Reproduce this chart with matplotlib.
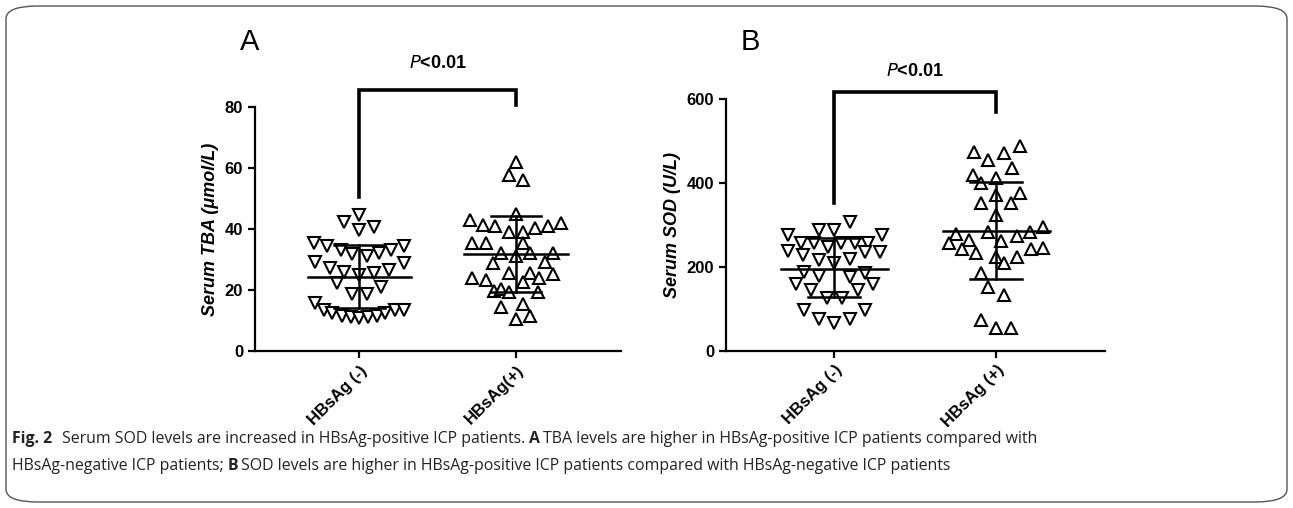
import matplotlib
matplotlib.use("Agg")
import matplotlib.pyplot as plt
from matplotlib.patches import FancyBboxPatch

plt.rcParams['font.family'] = ['Liberation Sans', 'DejaVu Sans']

# ---- data ----
groups_a = ["HBsAg (-)", "HBsAg(+)"]
groups_b = ["HBsAg (-)", "HBsAg (+)"]

tba_neg = [44.5, 42.4, 39.6, 40.5, 35.5, 34.4, 33.0, 31.8, 31.2, 32.0, 33.0, 34.4,
           29.3, 28.7, 27.1, 26.0, 24.9, 25.7, 26.5, 22.4, 21.1, 18.7, 18.7, 15.6,
           13.6, 12.6, 11.5, 11.2, 10.7, 11.2, 11.5, 12.3, 13.4, 13.6]
tba_neg_dx = [0, -0.096, 0, 0.091, -0.291, -0.206, -0.121, -0.047, 0.045, 0.123, 0.202, 0.287,
              -0.285, 0.282, -0.185, -0.096, 0, 0.091, 0.187, -0.142, 0.138, -0.047, 0.045, -0.287,
              -0.227, -0.174, -0.110, -0.053, 0, 0.055, 0.113, 0.166, 0.225, 0.282]
tba_pos = [62.0, 57.6, 56.2, 44.9, 42.9, 41.3, 40.9, 39.1, 39.1, 40.2, 40.9, 42.0,
           35.5, 35.3, 35.5, 32.0, 31.2, 32.0, 32.0, 29.0, 29.3, 25.7, 25.7, 24.0,
           25.1, 24.0, 23.3, 22.5, 19.7, 20.2, 19.2, 19.4, 14.3, 15.4, 10.4, 11.6]
tba_pos_dx = [0, -0.047, 0.042, 0, -0.291, -0.210, -0.132, -0.047, 0.042, 0.123, 0.202, 0.287,
              -0.280, -0.195, 0.042, -0.096, 0, 0.091, 0.236, -0.146, 0.187, -0.047, 0.091, 0.144,
              0.236, -0.280, -0.189, 0.042, -0.142, -0.096, -0.047, 0.138, -0.096, 0.042, 0, 0.091]

sod_neg = [307.6, 287.8, 287.8, 275.8, 275.8, 256, 256, 248, 256, 256, 257.6,
           237.7, 228, 216, 210, 218, 236, 236, 186.8, 178, 176.5, 186,
           158, 158, 144.7, 144.7, 124.8, 124.8, 97, 97, 75.5, 65.2, 74.7]
sod_neg_dx = [0.095, -0.093, 0, -0.286, 0.294, -0.204, -0.123, -0.035, 0.043, 0.126, 0.206,
              -0.282, -0.193, -0.091, 0, 0.095, 0.191, 0.284, -0.189, -0.093, 0.095, 0.191,
              -0.235, 0.237, -0.144, 0.144, -0.045, 0.047, -0.189, 0.191, -0.093, 0, 0.095]
sod_pos = [488, 474.6, 470.6, 454.7, 434.8, 418.9, 399, 412.6, 375.2, 371.2, 351.3, 351.3,
           323.5, 295.7, 283.8, 278.2, 283.8, 273.4, 263.9, 262.3, 256, 241.6, 233.7,
           241.6, 244, 224, 224, 209.9, 184.4, 152.6, 132.7, 73.1, 53.3, 53.3]
sod_pos_dx = [0.144, -0.138, 0.047, -0.049, 0.095, -0.144, -0.097, 0, 0.144, 0, -0.093, 0.093,
              0, 0.290, 0.208, -0.247, -0.049, 0.126, -0.169, 0.027, -0.292, -0.210, -0.128,
              0.212, 0.290, 0, 0.126, 0.047, -0.093, -0.049, 0.047, -0.093, 0, 0.093]

# mean, lower SD, upper SD
tba_stats = [(24.3, 14.0, 34.7), (31.8, 19.4, 44.2)]
sod_stats = [(195.5, 127, 268), (286, 171, 403)]

W, H = 1293, 508
fig = plt.figure(figsize=(W / 100, H / 100), dpi=100)

frame = FancyBboxPatch((6 / W, 6 / H), 1281 / W, 496 / H,
                       boxstyle="round,pad=0,rounding_size=0.025",
                       transform=fig.transFigure, fill=False,
                       edgecolor="#555555", linewidth=1.0)
fig.patches.append(frame)


def panel(rect, vals, dxs, stats, labels, ylim, yticks, ylabel, bracket, ptext_y):
    ax = fig.add_axes(rect)
    markers = ["v", "^"]
    for i in range(2):
        xs = [i + d for d in dxs[i]]
        ax.plot(xs, vals[i], linestyle="none", marker=markers[i], ms=8,
                mfc="white", mec="black", mew=1.5, zorder=3)
        m, lo, hi = stats[i]
        ax.plot([i - 0.33, i + 0.33], [m, m], color="black", lw=1.8, zorder=4)
        ax.plot([i - 0.16, i + 0.16], [lo, lo], color="black", lw=1.8, zorder=4)
        ax.plot([i - 0.16, i + 0.16], [hi, hi], color="black", lw=1.8, zorder=4)
        ax.plot([i, i], [lo, hi], color="black", lw=1.8, zorder=4)
    ax.set_xlim(-0.667, 1.67)
    ax.set_ylim(*ylim)
    ax.set_yticks(yticks)
    ax.set_xticks([0, 1])
    ax.set_xticklabels(labels, rotation=45, ha="right", rotation_mode="anchor",
                       fontsize=12, fontweight="bold")
    for t in ax.get_yticklabels():
        t.set_fontweight("bold")
        t.set_fontsize(12)
    ax.set_ylabel(ylabel, fontsize=13, fontweight="bold", style="italic", labelpad=4)
    for s in ["top", "right"]:
        ax.spines[s].set_visible(False)
    for s in ["left", "bottom"]:
        ax.spines[s].set_linewidth(1.6)
    ax.tick_params(width=1.6, length=5, direction="out")
    top, l_end, r_end = bracket
    ax.plot([0, 0, 1, 1], [l_end, top, top, r_end], color="black", lw=2.6,
            clip_on=False, solid_joinstyle="miter")
    ax.text(0.5, ptext_y, r"$\bf{\it{P}}$<0.01", ha="center", va="bottom",
            fontsize=13, fontweight="bold")
    return ax


panel([255 / W, 157 / H, 366 / W, 244 / H],
      [tba_neg, tba_pos], [tba_neg_dx, tba_pos_dx], tba_stats, groups_a,
      (0, 80), [0, 20, 40, 60, 80], "Serum TBA (μmol/L)",
      (85.6, 50.5, 80.6), 91.5)

panel([726 / W, 157.3 / H, 379 / W, 251.7 / H],
      [sod_neg, sod_pos], [sod_neg_dx, sod_pos_dx], sod_stats, groups_b,
      (0, 600), [0, 200, 400, 600], "Serum SOD (U/L)",
      (617.6, 351, 570), 645)

fig.text(250 / W, 1 - 42 / H, "A", fontsize=21, ha="center", va="center")
fig.text(750 / W, 1 - 42 / H, "B", fontsize=21, ha="center", va="center")

# caption with mixed weights
renderer = fig.canvas.get_renderer()
cap_font = ['Open Sans', 'DejaVu Sans']
cap_size = 11.4


def caption_line(pieces, x0, y_px):
    x = x0
    for txt, bold, gap in pieces:
        x += gap
        t = fig.text(x / W, 1 - y_px / H, txt, fontsize=cap_size, family=cap_font,
                     fontweight="bold" if bold else "normal", va="baseline", ha="left",
                     color="#222222")
        bb = t.get_window_extent(renderer)
        x = bb.x1


caption_line([("Fig. 2", True, 0),
              ("Serum SOD levels are increased in HBsAg-positive ICP patients.", False, 10),
              ("A", True, 4),
              ("TBA levels are higher in HBsAg-positive ICP patients compared with", False, 3)],
             12, 443)
caption_line([("HBsAg-negative ICP patients;", False, 0),
              ("B", True, 4),
              ("SOD levels are higher in HBsAg-positive ICP patients compared with HBsAg-negative ICP patients", False, 3)],
             12, 470)

fig.savefig("out.png", dpi=100)
